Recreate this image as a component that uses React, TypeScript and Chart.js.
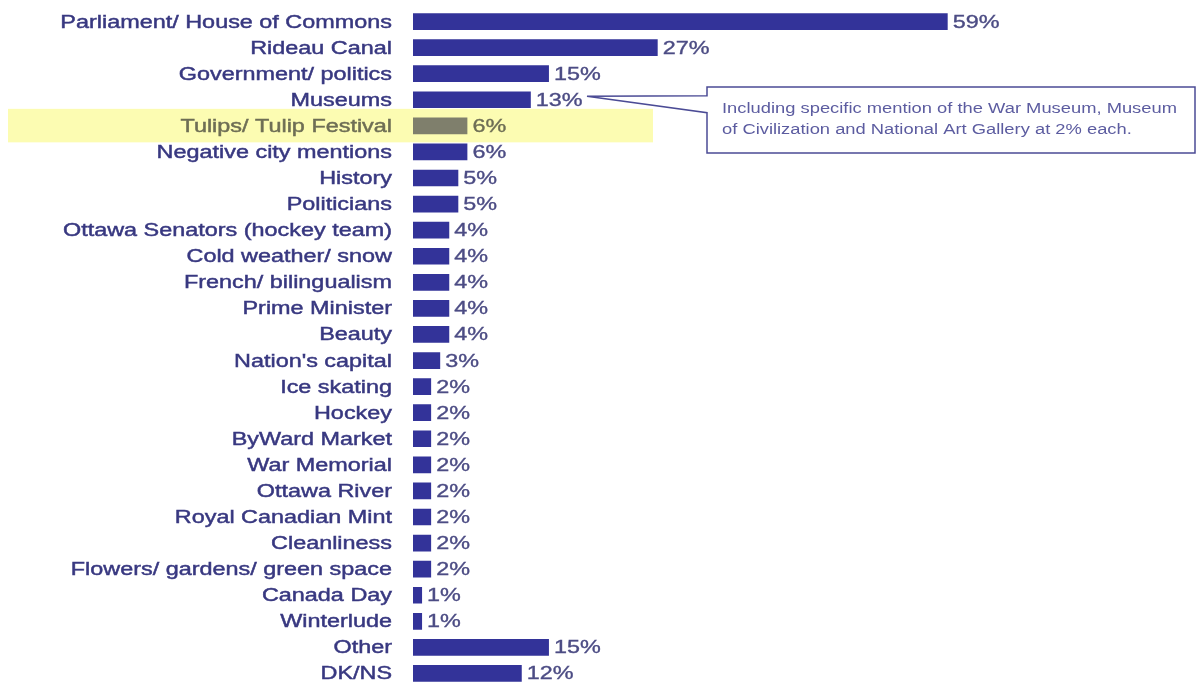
import React, { useEffect, useRef } from "react";
import { Chart, registerables } from "chart.js";

Chart.register(...registerables);

const categories: string[] = [
  "Parliament/ House of Commons",
  "Rideau Canal",
  "Government/ politics",
  "Museums",
  "Tulips/ Tulip Festival",
  "Negative city mentions",
  "History",
  "Politicians",
  "Ottawa Senators (hockey team)",
  "Cold weather/ snow",
  "French/ bilingualism",
  "Prime Minister",
  "Beauty",
  "Nation's capital",
  "Ice skating",
  "Hockey",
  "ByWard Market",
  "War Memorial",
  "Ottawa River",
  "Royal Canadian Mint",
  "Cleanliness",
  "Flowers/ gardens/ green space",
  "Canada Day",
  "Winterlude",
  "Other",
  "DK/NS",
];

const values: number[] = [59, 27, 15, 13, 6, 6, 5, 5, 4, 4, 4, 4, 4, 3, 2, 2, 2, 2, 2, 2, 2, 2, 1, 1, 15, 12];

const valueLabels: string[] = values.map((v) => `${v}%`);

const highlightIndex = 4;
const calloutIndex = 3;
const calloutLines: string[] = [
  "Including specific mention of the War Museum, Museum",
  "of Civilization and National Art Gallery at 2% each.",
];

const BAR_COLOR = "#333399";
const HIGHLIGHT_BAR = "#7f7f6c";
const LABEL_COLOR = "#383880";
const PCT_COLOR = "#4c4c84";
const HIGHLIGHT_TEXT = "#6e6e55";
const STRETCH = 1.3;

function drawStretched(
  ctx: CanvasRenderingContext2D,
  text: string,
  x: number,
  y: number,
  align: CanvasTextAlign,
  sx: number,
  weight: number
) {
  ctx.save();
  ctx.translate(x, y);
  ctx.scale(sx, 1);
  ctx.textAlign = align;
  ctx.fillText(text, 0, 0);
  if (weight > 0) {
    ctx.lineWidth = weight;
    ctx.strokeStyle = ctx.fillStyle as string;
    ctx.strokeText(text, 0, 0);
  }
  ctx.restore();
}

const decorPlugin = {
  id: "decor",
  beforeDatasetsDraw(chart: any) {
    const ctx: CanvasRenderingContext2D = chart.ctx;
    const yScale = chart.scales.y;
    const cy = yScale.getPixelForValue(highlightIndex);
    ctx.save();
    ctx.fillStyle = "#fcfcb2";
    ctx.fillRect(8, cy - 17, 645, 33.5);
    ctx.restore();
  },
  afterDatasetsDraw(chart: any) {
    const ctx: CanvasRenderingContext2D = chart.ctx;
    const yScale = chart.scales.y;
    const meta = chart.getDatasetMeta(0);
    ctx.save();
    ctx.textBaseline = "middle";
    ctx.font = "18px 'Liberation Sans', Arial, sans-serif";
    categories.forEach((label, i) => {
      const cy = yScale.getPixelForValue(i);
      ctx.fillStyle = i === highlightIndex ? HIGHLIGHT_TEXT : LABEL_COLOR;
      drawStretched(ctx, label, 392, cy + 1, "right", STRETCH, 0.45);
      const bar = meta.data[i];
      ctx.fillStyle = i === highlightIndex ? HIGHLIGHT_TEXT : PCT_COLOR;
      drawStretched(ctx, valueLabels[i], bar.x + 5, cy + 1, "left", STRETCH, 0.35);
    });

    // callout
    const my = yScale.getPixelForValue(calloutIndex);
    const left = 707;
    const top = 87;
    const right = 1195;
    const bottom = 153;
    ctx.beginPath();
    ctx.moveTo(left, top);
    ctx.lineTo(left, my - 4);
    ctx.lineTo(587, my - 3.5);
    ctx.lineTo(left, my + 13);
    ctx.lineTo(left, bottom);
    ctx.lineTo(right, bottom);
    ctx.lineTo(right, top);
    ctx.closePath();
    ctx.fillStyle = "#ffffff";
    ctx.fill();
    ctx.strokeStyle = "#4b4b95";
    ctx.lineWidth = 1.5;
    ctx.stroke();

    ctx.fillStyle = "#5c5ca0";
    ctx.font = "14px 'Liberation Sans', Arial, sans-serif";
    ctx.textBaseline = "alphabetic";
    calloutLines.forEach((line, k) => {
      drawStretched(ctx, line, 722, 112.5 + k * 21, "left", 1.31, 0);
    });
    ctx.restore();
  },
};

export default function App() {
  const canvasRef = useRef<HTMLCanvasElement | null>(null);

  useEffect(() => {
    document.body.style.margin = "0";
    document.body.style.overflow = "hidden";
    document.documentElement.style.overflow = "hidden";
    const canvas = canvasRef.current;
    if (!canvas) return;
    const chart = new Chart(canvas, {
      type: "bar",
      data: {
        labels: categories,
        datasets: [
          {
            data: values,
            backgroundColor: values.map((_, i) => (i === highlightIndex ? HIGHLIGHT_BAR : BAR_COLOR)),
            borderWidth: 0,
            categoryPercentage: 1,
            barPercentage: 0.64,
          },
        ],
      },
      options: {
        indexAxis: "y",
        animation: false,
        responsive: true,
        maintainAspectRatio: false,
        layout: { padding: { left: 413, right: 59, top: 8.5, bottom: 3.5 } },
        plugins: {
          legend: { display: false },
          tooltip: { enabled: false },
        },
        scales: {
          x: { display: false, min: 0, max: 80, grid: { display: false } },
          y: { display: false, grid: { display: false } },
        },
      },
      plugins: [decorPlugin],
    });
    return () => chart.destroy();
  }, []);

  return (
    <div style={{ position: "relative", width: 1197, height: 690, background: "#ffffff" }}>
      <canvas ref={canvasRef} style={{ display: "block" }} />
    </div>
  );
}
